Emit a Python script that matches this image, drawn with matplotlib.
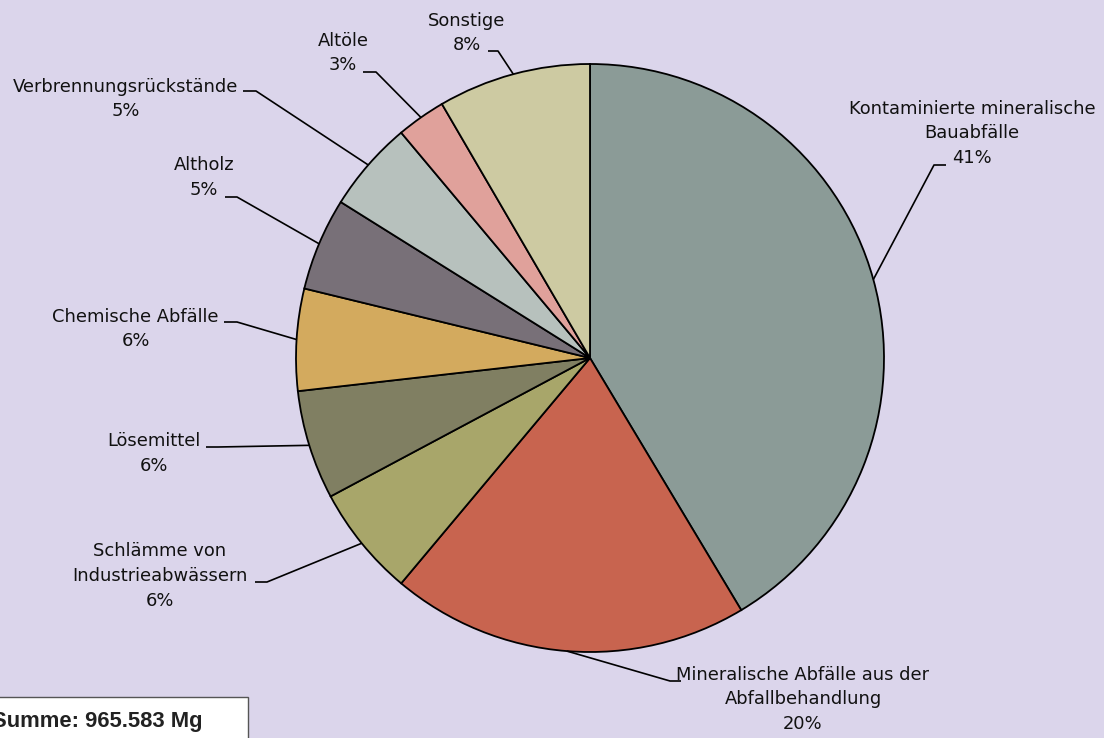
import numpy as np
import matplotlib
matplotlib.use("Agg")
import matplotlib.pyplot as plt
from matplotlib.patches import Rectangle

# ---- data ----
categories = [
    "Kontaminierte mineralische\nBauabfälle",
    "Mineralische Abfälle aus der\nAbfallbehandlung",
    "Schlämme von\nIndustrieabwässern",
    "Lösemittel",
    "Chemische Abfälle",
    "Altholz",
    "Verbrennungsrückstände",
    "Altöle",
    "Sonstige",
]
shares = [41.4, 19.7, 6.1, 6.0, 5.6, 5.1, 5.0, 2.7, 8.4]
colors = ["#8b9b97", "#c8644f", "#a8a66a", "#807f62", "#d3aa5e",
          "#787078", "#b7c1bd", "#e0a19b", "#cdcaa2"]
total_text = "Summe: 965.583 Mg"

# ---- layout (pixel coordinates of the 1104x738 canvas) ----
W, H = 1104, 738
CX, CY, R = 590, 358, 294
label_pos = [(972, 107), (803, 673), (160, 550), (154, 440), (135.5, 315),
             (204, 164), (125.5, 85), (343, 39), (467, 19)]
leader_elbow = [(934, 165), (670, 681), (267, 582), (218, 447), (237, 322),
                (237, 197), (256, 91), (376, 72), (498, 51)]
leader_end = [(946, 165), (681, 681), (255, 582), (206, 447), (224, 322),
              (225, 197), (243, 91), (363, 72), (488, 51)]
LINE_STEP = 24.7
BG = "#dbd5eb"

fig = plt.figure(figsize=(W / 100, H / 100), dpi=100, facecolor=BG)
ax = fig.add_axes([0, 0, 1, 1])
ax.set_facecolor(BG)

wedges, _ = ax.pie(shares, colors=colors, startangle=-90, counterclock=True,
                   center=(CX, CY), radius=R,
                   wedgeprops=dict(edgecolor="black", linewidth=1.3))
ax.set_xlim(0, W)
ax.set_ylim(H, 0)
ax.set_aspect("equal")
ax.axis("off")

font = dict(family="DejaVu Sans", size=12.9, color="#111111")

for i, (name, val) in enumerate(zip(categories, shares)):
    w = wedges[i]
    mid = np.deg2rad((w.theta1 + w.theta2) / 2)
    px = w.center[0] + w.r * np.cos(mid)
    py = w.center[1] + w.r * np.sin(mid)
    ex, ey = leader_elbow[i]
    hx, hy = leader_end[i]
    ax.plot([px, ex, hx], [py, ey, hy], color="black", lw=1.2,
            solid_capstyle="butt", zorder=3)
    lines = name.split("\n") + [f"{val:.0f}%"]
    x0, y0 = label_pos[i]
    for j, ln in enumerate(lines):
        ax.text(x0, y0 + j * LINE_STEP + 6.5, ln, ha="center", va="baseline",
                **font)

# total box (partially outside the canvas, as in the original)
ax.add_patch(Rectangle((-20, 697), 268, 60, facecolor="white",
                       edgecolor="#555555", lw=1.0, zorder=4, clip_on=True))
ax.text(203, 727, total_text, ha="right", va="baseline", fontsize=15.8,
        fontweight="bold", family="Liberation Sans", color="#222222", zorder=5)

fig.savefig("out.png", dpi=100, facecolor=BG)
